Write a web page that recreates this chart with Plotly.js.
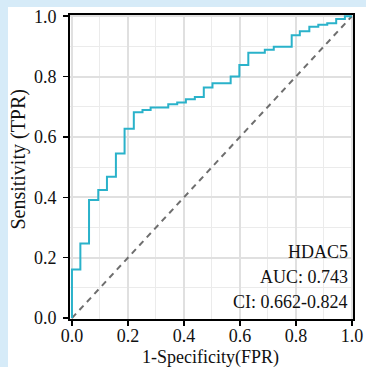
<!DOCTYPE html>
<html>
<head>
<meta charset="utf-8">
<script src="https://cdn.plot.ly/plotly-3.0.1.min.js"></script>
<style>
  html, body { margin: 0; padding: 0; background: #d6ebf8; width: 366px; height: 367px; overflow: hidden; }
  #panel { position: absolute; left: 8px; top: 7px; width: 358px; height: 360px; background: #ffffff; }
  #chart { position: absolute; left: 0; top: 0; width: 366px; height: 367px; }
</style>
</head>
<body>
<div id="panel"></div>
<div id="chart"></div>
<script>
// ROC step vertices (x = FPR of each vertical step, y = TPR at top of the step)
const fpr = [0.000, 0.000, 0.030, 0.061, 0.094, 0.125, 0.157, 0.188, 0.221, 0.252, 0.281, 0.344, 0.376, 0.407, 0.439, 0.471, 0.502, 0.567, 0.598, 0.630, 0.689, 0.721, 0.785, 0.814, 0.848, 0.880, 0.912, 0.944, 0.975, 1.000];
const tpr = [0.000, 0.161, 0.247, 0.391, 0.424, 0.468, 0.545, 0.627, 0.682, 0.689, 0.698, 0.708, 0.714, 0.725, 0.732, 0.764, 0.778, 0.800, 0.838, 0.879, 0.889, 0.899, 0.937, 0.950, 0.965, 0.972, 0.977, 0.991, 1.000, 1.000];
const diagX = [0, 1];
const diagY = [0, 1];
const tickVals = [0, 0.2, 0.4, 0.6, 0.8, 1.0];
const tickText = ["0.0", "0.2", "0.4", "0.6", "0.8", "1.0"];
const minorVals = [0.1, 0.3, 0.5, 0.7, 0.9];
const markerName = "HDAC5";
const aucText = "AUC: 0.743";
const ciText = "CI: 0.662-0.824";
const xTitle = "1-Specificity(FPR)";
const yTitle = "Sensitivity (TPR)";

const serif = "Liberation Serif";
const ink = "#111111";

const traces = [
  {
    x: diagX, y: diagY, type: "scatter", mode: "lines",
    line: { color: "#6e6e6e", width: 2, dash: "6px,5px" },
    hoverinfo: "skip", showlegend: false
  },
  {
    x: fpr, y: tpr, type: "scatter", mode: "lines",
    line: { color: "#2ab2ca", width: 2, shape: "hv" },
    showlegend: false
  }
];

function axis(extra) {
  return Object.assign({
    tickmode: "array", tickvals: tickVals, ticktext: tickText,
    ticks: "outside", ticklen: 5, tickwidth: 1.5, tickcolor: "#000",
    showline: true, linecolor: "#000", linewidth: 2, mirror: true,
    showgrid: true, gridcolor: "#e0e0e0", gridwidth: 2,
    minor: { tickmode: "array", tickvals: minorVals, showgrid: true, gridcolor: "#ebebeb", gridwidth: 1, ticks: "" },
    zeroline: false,
    ticklabeloverflow: "allow",
    tickfont: { family: serif, size: 18, color: ink },
    fixedrange: true
  }, extra);
}

const layout = {
  width: 366, height: 367,
  margin: { l: 70, r: 13, t: 15, b: 48 },
  paper_bgcolor: "rgba(0,0,0,0)", plot_bgcolor: "#ffffff",
  font: { family: serif, size: 18, color: ink },
  xaxis: axis({ range: [-0.007, 1.004], ticklabelstandoff: -6 }),
  yaxis: axis({ range: [-0.003, 1.004], ticklabelstandoff: 3 }),
  annotations: [
    { xref: "x", yref: "y", x: 0.993, y: 0.179, xanchor: "right", yanchor: "bottom", text: markerName, showarrow: false, font: { family: serif, size: 18, color: ink } },
    { xref: "x", yref: "y", x: 0.993, y: 0.096, xanchor: "right", yanchor: "bottom", text: aucText, showarrow: false, font: { family: serif, size: 18, color: ink } },
    { xref: "x", yref: "y", x: 0.993, y: 0.013, xanchor: "right", yanchor: "bottom", text: ciText, showarrow: false, font: { family: serif, size: 18, color: ink } },
    { xref: "paper", yref: "paper", x: 0.4965, y: -0.127, xanchor: "center", yanchor: "middle", text: xTitle, showarrow: false, font: { family: serif, size: 18, color: ink } },
    { xref: "paper", yref: "paper", x: -0.182, y: 0.526, xanchor: "center", yanchor: "middle", textangle: -90, text: yTitle, showarrow: false, font: { family: serif, size: 20, color: ink } }
  ]
};

Plotly.newPlot("chart", traces, layout, { displayModeBar: false, staticPlot: true });
</script>
</body>
</html>
